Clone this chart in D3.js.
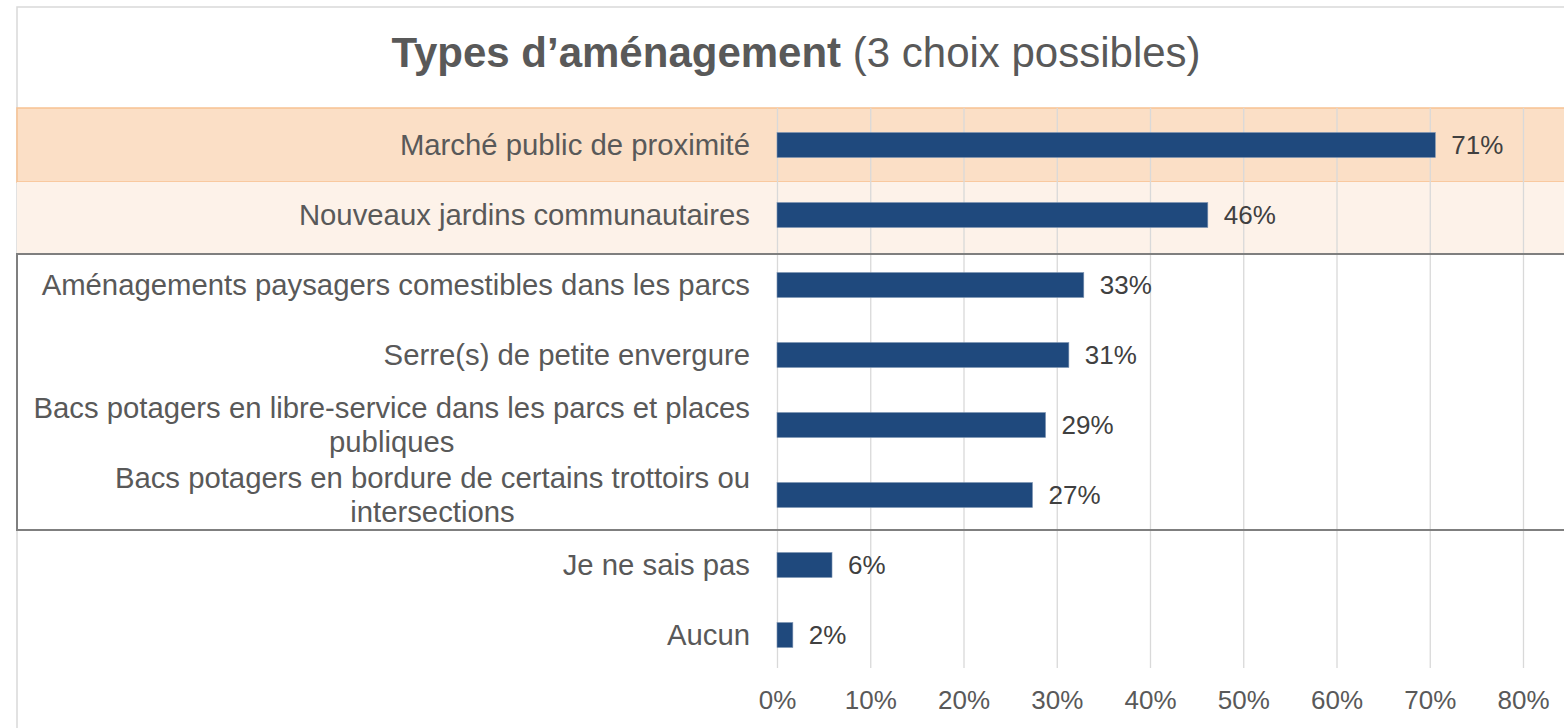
<!DOCTYPE html>
<html>
<head>
<meta charset="utf-8">
<script src="https://cdn.jsdelivr.net/npm/d3@7"></script>
<style>
  body { margin: 0; background: #fff; }
  text { font-family: "Liberation Sans", Arial, sans-serif; }
</style>
</head>
<body>
<script>
var w = 1564;
var h = 728;

// data
var categories = [
    "Marché public de proximité",
    "Nouveaux jardins communautaires",
    "Aménagements paysagers comestibles dans les parcs",
    "Serre(s) de petite envergure",
    "Bacs potagers en libre-service dans les parcs et places\npubliques",
    "Bacs potagers en bordure de certains trottoirs ou\nintersections",
    "Je ne sais pas",
    "Aucun"
];
var values = [70.6, 46.2, 32.9, 31.3, 28.8, 27.4, 5.9, 1.7];
var tickValues = [0, 10, 20, 30, 40, 50, 60, 70, 80];

var x = d3.scaleLinear()
    .domain([0, 80])
    .range([777, 1523]);

var y = d3.scaleBand()
    .domain(categories)
    .range([110, 670])
    .paddingInner(0.643)
    .paddingOuter(0.3215);

function mid(c) { return y(c) + y.bandwidth() / 2; }

var svg = d3.select("body")
    .append("svg")
    .attr("width", w)
    .attr("height", h);

// outer frame
svg.append("rect")
    .attr("x", 17).attr("y", 7)
    .attr("width", w).attr("height", h)
    .attr("fill", "#fff")
    .attr("stroke", "#d9d9d9")
    .attr("stroke-width", 1.5);

// highlighted rows
var s = y.step();
svg.append("rect")                      // first row, orange
    .attr("x", 17).attr("y", mid(categories[0]) - s / 2 - 2)
    .attr("width", w).attr("height", s + 4)
    .attr("fill", "#fbdfc6")
    .attr("stroke", "#f8c292")
    .attr("stroke-width", 1.5);
svg.append("rect")                      // second row, pale
    .attr("x", 17).attr("y", mid(categories[1]) - s / 2 + 2)
    .attr("width", w).attr("height", s + 2)
    .attr("fill", "#fdf2e9");

// grid + tick labels
var axis = d3.axisBottom(x)
    .tickValues(tickValues)
    .tickFormat(function(d) { return d + "%"; })
    .tickSizeInner(-(668 - 108))
    .tickSizeOuter(0)
    .tickPadding(23);

var gx = svg.append("g")
    .attr("transform", "translate(0,668)")
    .call(axis);
gx.select(".domain").remove();
gx.selectAll(".tick line")
    .attr("stroke", "#d9d9d9")
    .attr("stroke-width", 1.3);
gx.selectAll(".tick text")
    .attr("fill", "#595959")
    .style("font-size", "26px")
    .style("font-family", "'Liberation Sans', Arial, sans-serif");

// grey box around rows 3 to 6
svg.append("rect")
    .attr("x", 17).attr("y", mid(categories[2]) - s / 2 + 4)
    .attr("width", w).attr("height", mid(categories[5]) - mid(categories[2]) + s - 4)
    .attr("fill", "none")
    .attr("stroke", "#7f7f7f")
    .attr("stroke-width", 2);

// bars
svg.selectAll("rect.bar")
    .data(values)
    .enter()
    .append("rect")
    .attr("class", "bar")
    .attr("x", x(0))
    .attr("y", function(d, i) { return y(categories[i]); })
    .attr("width", function(d) { return x(d) - x(0); })
    .attr("height", y.bandwidth())
    .attr("fill", "#1f497d")
    .attr("stroke", "#7f95b4")
    .attr("stroke-width", 0.6);

// value labels
svg.selectAll("text.val")
    .data(values)
    .enter()
    .append("text")
    .attr("class", "val")
    .attr("x", function(d) { return x(d) + 16; })
    .attr("y", function(d, i) { return mid(categories[i]); })
    .attr("dy", "0.35em")
    .attr("fill", "#404040")
    .style("font-size", "26px")
    .text(function(d) { return Math.round(d) + "%"; });

// category labels (wrapped lines centred on each other, block right aligned)
var lineH = 34;
categories.forEach(function(c) {
    var lines = c.split("\n");
    var t = svg.append("text")
        .attr("fill", "#595959")
        .style("font-size", "29.3px")
        .attr("text-anchor", "middle");
    var spans = lines.map(function(l, k) {
        return t.append("tspan")
            .attr("y", mid(c) + 10 + (k - (lines.length - 1) / 2) * lineH)
            .text(l);
    });
    var maxW = d3.max(spans, function(sp) { return sp.node().getComputedTextLength(); });
    spans.forEach(function(sp) { sp.attr("x", 750 - maxW / 2); });
});

// title
var title = svg.append("text")
    .attr("x", 796)
    .attr("y", 67)
    .attr("text-anchor", "middle")
    .attr("fill", "#595959")
    .style("font-size", "42px");
title.append("tspan").attr("font-weight", "bold").text("Types d’aménagement");
title.append("tspan").text(" (3 choix possibles)");
</script>
</body>
</html>
